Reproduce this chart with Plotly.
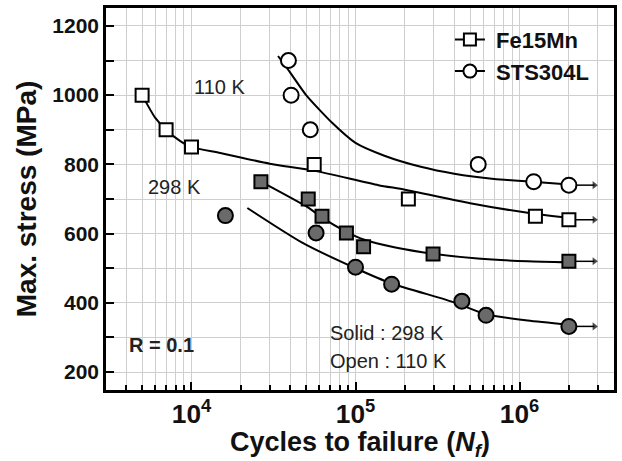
import math
import plotly.graph_objects as go

# ---------------- data ----------------
fe_open_n = [5.0e3, 7.0e3, 1.0e4, 5.6e4, 2.1e5, 1.25e6, 2.0e6]
fe_open_s = [1000, 900, 850, 800, 700, 650, 640]

sts_open_n = [3.9e4, 4.05e4, 5.3e4, 5.6e5, 1.22e6, 2.0e6]
sts_open_s = [1100, 1000, 900, 800, 750, 740]

fe_solid_n = [2.65e4, 5.15e4, 6.25e4, 8.8e4, 1.12e5, 2.97e5, 2.0e6]
fe_solid_s = [750, 700, 650, 602, 562, 541, 520]

sts_solid_n = [1.61e4, 5.75e4, 1.0e5, 1.66e5, 4.45e5, 6.25e5, 2.0e6]
sts_solid_s = [652, 602, 503, 454, 405, 364, 332]

# fitted trend curves
fe_open_fit_n = [5.0e3, 6.0e3, 7.0e3, 8.5e3, 1.0e4, 1.5e4, 3.0e4, 5.6e4, 1.38e5, 2.0e5, 5.0e5, 1.12e6, 2.0e6]
fe_open_fit_s = [1000, 935, 900, 868, 850, 833, 802, 782, 740, 727, 688, 660, 645]

sts_open_fit_n = [3.37e4, 4.0e4, 5.0e4, 7.2e4, 1.0e5, 1.5e5, 2.5e5, 4.0e5, 7.0e5, 1.2e6, 2.0e6]
sts_open_fit_s = [1113, 1065, 1000, 920, 862, 825, 793, 773, 758, 750, 742]

fe_solid_fit_n = [2.65e4, 5.15e4, 6.25e4, 8.8e4, 1.12e5, 1.75e5, 2.97e5, 5.56e5, 1.12e6, 2.0e6]
fe_solid_fit_s = [750, 675, 646, 605, 583, 560, 542, 528, 520, 517]

sts_solid_fit_n = [2.19e4, 4.73e4, 1.0e5, 1.66e5, 3.5e5, 4.45e5, 6.25e5, 1.12e6, 2.0e6]
sts_solid_fit_s = [674, 574, 500, 456, 410, 393, 367, 349, 337]

series_names = ["Fe15Mn", "STS304L"]
y_tick_step = 200
x_range = [3.4788, 6.576]
y_range = [148.3, 1251.7]

FONT = "Arial, Liberation Sans, sans-serif"
SOLID = "#6a6a6a"
GRID = "#cfcfcf"

fig = go.Figure()

# trend curves
for n, s in [(fe_open_fit_n, fe_open_fit_s), (sts_open_fit_n, sts_open_fit_s),
             (fe_solid_fit_n, fe_solid_fit_s), (sts_solid_fit_n, sts_solid_fit_s)]:
    fig.add_trace(go.Scatter(x=n, y=s, mode="lines", showlegend=False, hoverinfo="skip",
                             line=dict(color="black", width=2, shape="spline", smoothing=0.6)))

# run-out arrows from the last point of each series
for n, s in [(sts_open_n, sts_open_s), (fe_open_n, fe_open_s),
             (fe_solid_n, fe_solid_s), (sts_solid_n, sts_solid_s)]:
    fig.add_trace(go.Scatter(x=[n[-1], n[-1] * 1.43], y=[s[-1], s[-1]], mode="lines+markers",
                             showlegend=False, hoverinfo="skip",
                             line=dict(color="black", width=1.5),
                             marker=dict(symbol=["circle", "triangle-right"], size=[0, 7],
                                         color="black", line=dict(width=0))))

def mk(symbol, fill, size):
    return dict(symbol=symbol, size=size, color=fill, line=dict(color="black", width=2))

fig.add_trace(go.Scatter(x=fe_open_n, y=fe_open_s, mode="markers", showlegend=False,
                         marker=mk("square", "white", 13)))
fig.add_trace(go.Scatter(x=sts_open_n, y=sts_open_s, mode="markers", showlegend=False,
                         marker=mk("circle", "white", 15)))
fig.add_trace(go.Scatter(x=fe_solid_n, y=fe_solid_s, mode="markers", showlegend=False,
                         marker=mk("square", SOLID, 13)))
fig.add_trace(go.Scatter(x=sts_solid_n, y=sts_solid_s, mode="markers", showlegend=False,
                         marker=mk("circle", SOLID, 15)))

# legend entries
fig.add_trace(go.Scatter(x=[None], y=[None], mode="lines+markers", name="\u00a0" + series_names[0],
                         marker=mk("square", "white", 12), line=dict(color="black", width=2)))
fig.add_trace(go.Scatter(x=[None], y=[None], mode="lines+markers", name="\u00a0" + series_names[1],
                         marker=mk("circle", "white", 13), line=dict(color="black", width=2)))

def txt(x, y, t, bold=False, anchor="center", size=20):
    fig.add_annotation(x=math.log10(x), y=y, text=t, showarrow=False, xanchor=anchor,
                       font=dict(family=FONT, size=size, color="#222",
                                 weight="bold" if bold else "normal"))

txt(1.48e4, 1023, "110 K")
txt(7.9e3, 734, "298 K")
txt(4.07e3, 278, "R = 0.1", bold=True, anchor="left")
txt(6.79e4, 312, "Solid : 298 K", anchor="left")
txt(6.79e4, 232, "Open : 110 K", anchor="left")

axis_common = dict(showline=True, linecolor="black", linewidth=2.5, mirror=True,
                   ticks="inside", tickcolor="black", tickwidth=1.5, ticklen=8,
                   showgrid=True, gridcolor=GRID, gridwidth=1, zeroline=False,
                   tickfont=dict(family=FONT, size=21, color="#111", weight="bold"))

fig.update_layout(
    width=622, height=461,
    margin=dict(l=106, r=5, t=8, b=69),
    paper_bgcolor="white", plot_bgcolor="white",
    font=dict(family=FONT, color="#111"),
    xaxis=dict(type="log", range=x_range, dtick=1, exponentformat="power",
               minor=dict(dtick="D1", ticks="inside", ticklen=5, tickcolor="black",
                          showgrid=True, gridcolor=GRID, gridwidth=1),
               title=dict(text="Cycles to failure (<i>N<sub>f</sub></i>)", standoff=8,
                          font=dict(family=FONT, size=27, color="#111", weight="bold")),
               **axis_common),
    yaxis=dict(range=y_range, tick0=0, dtick=y_tick_step,
               minor=dict(dtick=100, ticks="inside", ticklen=8, tickcolor="black",
                          showgrid=True, gridcolor=GRID, gridwidth=1),
               title=dict(text="Max. stress (MPa)", standoff=8,
                          font=dict(family=FONT, size=28, color="#111", weight="bold")),
               **axis_common),
    legend=dict(x=0.677, y=0.972, xanchor="left", yanchor="top", bgcolor="rgba(0,0,0,0)",
                font=dict(family=FONT, size=22, color="#111", weight="bold"),
                tracegroupgap=0),
)

fig.write_html("out.html")
